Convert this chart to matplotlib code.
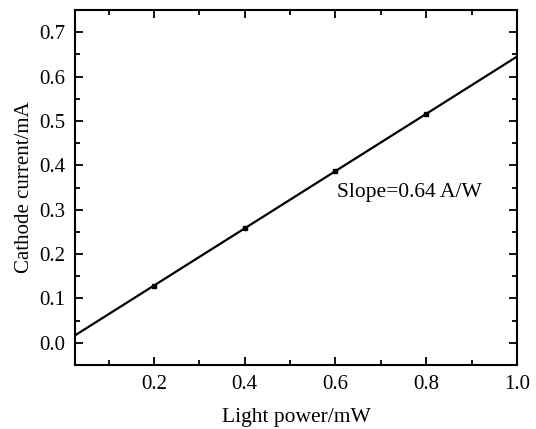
import numpy as np
import matplotlib.pyplot as plt
from matplotlib.ticker import MultipleLocator

# data
light_power = [0.2, 0.4, 0.6, 0.8]          # mW
cathode_current = [0.129, 0.258, 0.387, 0.516]  # mA
fit_range = [0.026, 1.0]

plt.rcParams['font.family'] = ['Liberation Serif', 'DejaVu Serif']

fig = plt.figure(figsize=(5.36, 4.29), dpi=100)
ax = fig.add_axes([75 / 536, 1 - 365 / 429, (517 - 75) / 536, (365 - 10) / 429])

# linear fit through the points
slope, intercept = np.polyfit(light_power, cathode_current, 1)
xs = np.array(fit_range)
ax.plot(xs, slope * xs + intercept, color='black', lw=1.6)
ax.plot(light_power, cathode_current, 's', color='black', ms=3.5)

ax.text(0.604, 0.338, 'Slope=0.64 A/W', fontsize=15.5, va='center', ha='left')

ax.set_xlim(0.026, 1.0)
ax.set_ylim(-0.05, 0.75)
ax.xaxis.set_minor_locator(MultipleLocator(0.1))
ax.yaxis.set_major_locator(MultipleLocator(0.1))
ax.yaxis.set_minor_locator(MultipleLocator(0.05))
ax.set_xticks([0.2, 0.4, 0.6, 0.8, 1.0])
ax.set_xticklabels(['0.2', '0.4', '0.6', '0.8', '1.0'])
ax.tick_params(which='both', direction='in', top=True, right=True, width=1.3)
ax.tick_params(which='major', length=6, labelsize=15, pad=7)
ax.tick_params(which='minor', length=3.5)
for s in ax.spines.values():
    s.set_linewidth(1.5)

ax.set_xlabel('Light power/mW', fontsize=15.5, labelpad=10)
ax.set_ylabel('Cathode current/mA', fontsize=15, labelpad=4)

fig.savefig('out.png', dpi=100)
